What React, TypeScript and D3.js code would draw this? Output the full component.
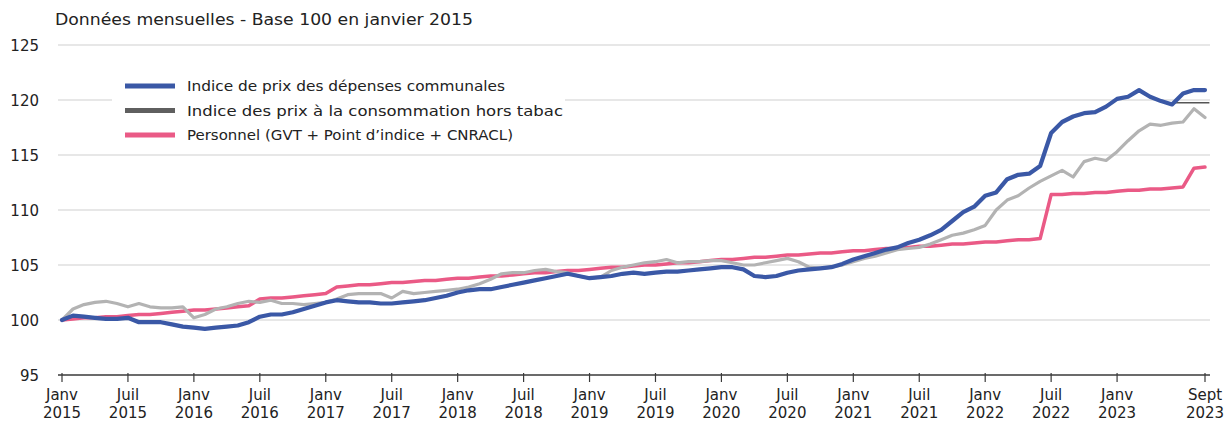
import React from "react";
import * as d3 from "d3";

const START_YEAR = 2015;
// Monthly values, Jan 2015 (index 0) to Sept 2023 (index 104)
const communal: number[] = [
  100.0, 100.4, 100.3, 100.2, 100.1, 100.1, 100.2, 99.8, 99.8, 99.8, 99.6, 99.4,
  99.3, 99.2, 99.3, 99.4, 99.5, 99.8, 100.3, 100.5, 100.5, 100.7, 101.0, 101.3,
  101.6, 101.8, 101.7, 101.6, 101.6, 101.5, 101.5, 101.6, 101.7, 101.8, 102.0, 102.2,
  102.5, 102.7, 102.8, 102.8, 103.0, 103.2, 103.4, 103.6, 103.8, 104.0, 104.2, 104.0,
  103.8, 103.9, 104.0, 104.2, 104.3, 104.2, 104.3, 104.4, 104.4, 104.5, 104.6, 104.7,
  104.8, 104.8, 104.6, 104.0, 103.9, 104.0, 104.3, 104.5, 104.6, 104.7, 104.8, 105.1,
  105.5, 105.8, 106.1, 106.4, 106.6, 107.0, 107.3, 107.7, 108.2, 109.0, 109.8, 110.3,
  111.3, 111.6, 112.8, 113.2, 113.3, 114.0, 117.0, 118.0, 118.5, 118.8, 118.9, 119.4,
  120.1, 120.3, 120.9, 120.3, 119.9, 119.6, 120.6, 120.9, 120.9,
];
const cpi: number[] = [
  100.0, 101.0, 101.4, 101.6, 101.7, 101.5, 101.2, 101.5, 101.2, 101.1, 101.1, 101.2,
  100.2, 100.5, 101.0, 101.2, 101.5, 101.7, 101.6, 101.8, 101.5, 101.5, 101.4, 101.5,
  101.6, 101.9, 102.3, 102.4, 102.4, 102.4, 102.0, 102.6, 102.4, 102.5, 102.6, 102.7,
  102.8, 103.0, 103.3, 103.7, 104.2, 104.3, 104.3, 104.5, 104.6, 104.4, 104.3, 104.0,
  103.8, 103.9, 104.5, 104.8, 105.0, 105.2, 105.3, 105.5, 105.2, 105.3, 105.3, 105.4,
  105.4, 105.2, 105.0, 105.0, 105.2, 105.4, 105.6, 105.3, 104.8, 104.7, 104.8, 105.0,
  105.3, 105.6, 105.8, 106.1, 106.4, 106.5, 106.6, 106.9, 107.3, 107.7, 107.9, 108.2,
  108.6, 110.0, 110.9, 111.3, 112.0, 112.6, 113.1, 113.6, 113.0, 114.4, 114.7, 114.5,
  115.3, 116.3, 117.2, 117.8, 117.7, 117.9, 118.0, 119.2, 118.4,
];
const personnel: number[] = [
  100.0, 100.1, 100.2, 100.2, 100.3, 100.3, 100.4, 100.5, 100.5, 100.6, 100.7, 100.8,
  100.9, 100.9, 101.0, 101.1, 101.2, 101.3, 101.9, 102.0, 102.0, 102.1, 102.2, 102.3,
  102.4, 103.0, 103.1, 103.2, 103.2, 103.3, 103.4, 103.4, 103.5, 103.6, 103.6, 103.7,
  103.8, 103.8, 103.9, 104.0, 104.0, 104.1, 104.2, 104.3, 104.3, 104.4, 104.5, 104.5,
  104.6, 104.7, 104.8, 104.8, 104.9, 105.0, 105.0, 105.1, 105.2, 105.2, 105.3, 105.4,
  105.5, 105.5, 105.6, 105.7, 105.7, 105.8, 105.9, 105.9, 106.0, 106.1, 106.1, 106.2,
  106.3, 106.3, 106.4, 106.5, 106.5, 106.6, 106.7, 106.7, 106.8, 106.9, 106.9, 107.0,
  107.1, 107.1, 107.2, 107.3, 107.3, 107.4, 111.4, 111.4, 111.5, 111.5, 111.6, 111.6,
  111.7, 111.8, 111.8, 111.9, 111.9, 112.0, 112.1, 113.8, 113.9, 114.1, 114.1,
].slice(0, 105);

const yTicks = [95, 100, 105, 110, 115, 120, 125];
const xTickMonths = [0, 6, 12, 18, 24, 30, 36, 42, 48, 54, 60, 66, 72, 78, 84, 90, 96, 104];
const xTickNames = ["Janv", "Juil", "Sept"];

const legendLabels = [
  "Indice de prix des dépenses communales",
  "Indice des prix à la consommation hors tabac",
  "Personnel (GVT + Point d’indice + CNRACL)",
];
const legendTextWidths = [318, 376, 326];
const title = "Données mensuelles - Base 100 en janvier 2015";

const FONT = "'DejaVu Sans', 'Open Sans', sans-serif";

export default function App() {
  const W = 1225, H = 423;
  const x = d3.scaleLinear().domain([0, 104]).range([62, 1205]);
  const y = d3.scaleLinear().domain([95, 125]).range([375, 45]);
  const line = d3
    .line<number>()
    .x((_, i) => x(i))
    .y((d) => y(d))
    .curve(d3.curveLinear);

  const series = [
    { data: personnel, color: "#ea5a86", width: 3.5 },
    { data: cpi, color: "#b3b3b3", width: 3.2 },
    { data: communal, color: "#3a58a6", width: 4.2 },
  ];
  const legendColors = ["#3a58a6", "#5f5f5f", "#ea5a86"];

  const tickLabel = (m: number) => {
    const yr = START_YEAR + Math.floor(m / 12);
    const mo = m % 12;
    const name = mo === 0 ? xTickNames[0] : mo === 6 ? xTickNames[1] : xTickNames[2];
    return [name, String(yr)];
  };

  return (
    <svg
      width={W}
      height={H}
      style={{ position: "fixed", left: 0, top: 0, background: "#fff" }}
      fontFamily={FONT}
    >
      <rect width={W} height={H} fill="#fff" />
      <text x={55} y={25} fontSize={15} fill="#222" textLength={418} lengthAdjust="spacingAndGlyphs">
        {title}
      </text>
      {/* gridlines */}
      {yTicks
        .filter((t) => t !== 95)
        .map((t) => (
          <line key={t} x1={58} x2={1210} y1={y(t)} y2={y(t)} stroke="#d0d0d0" strokeWidth={1.2} />
        ))}
      {/* darker segment near 120 at right, as in the source */}
      <line x1={x(101)} x2={x(104.4)} y1={y(119.75)} y2={y(119.75)} stroke="#555" strokeWidth={1.4} />
      {/* y labels */}
      {yTicks.map((t) => (
        <text key={t} x={39} y={y(t) + 5.5} textAnchor="end" fontSize={15} fill="#222">
          {t}
        </text>
      ))}
      {/* x axis */}
      <line x1={58} x2={1210} y1={y(95)} y2={y(95)} stroke="#3a3a3a" strokeWidth={1.6} />
      {xTickMonths.map((m) => {
        const [a, b] = tickLabel(m);
        return (
          <g key={m} transform={`translate(${x(m)},0)`}>
            <line y1={y(95) - 2} y2={y(95) + 7} stroke="#3a3a3a" strokeWidth={1.2} />
            <text y={y(95) + 25} textAnchor="middle" fontSize={15} fill="#222">
              {a}
            </text>
            <text y={y(95) + 43} textAnchor="middle" fontSize={15} fill="#222">
              {b}
            </text>
          </g>
        );
      })}
      {/* legend background */}
      <rect x={112} y={68} width={453} height={80} fill="#fff" />
      {/* series */}
      {series.map((s, i) => (
        <path
          key={i}
          d={line(s.data) || ""}
          fill="none"
          stroke={s.color}
          strokeWidth={s.width}
          strokeLinejoin="round"
          strokeLinecap="round"
        />
      ))}
      {/* legend */}
      {legendLabels.map((l, i) => (
        <g key={l} transform={`translate(125,${86 + i * 24.5})`}>
          <line x1={0} x2={50} y1={0} y2={0} stroke={legendColors[i]} strokeWidth={5} />
          <text
            x={62}
            y={5}
            fontSize={13.5}
            fill="#222"
            textLength={legendTextWidths[i]}
            lengthAdjust="spacingAndGlyphs"
          >
            {l}
          </text>
        </g>
      ))}
    </svg>
  );
}
